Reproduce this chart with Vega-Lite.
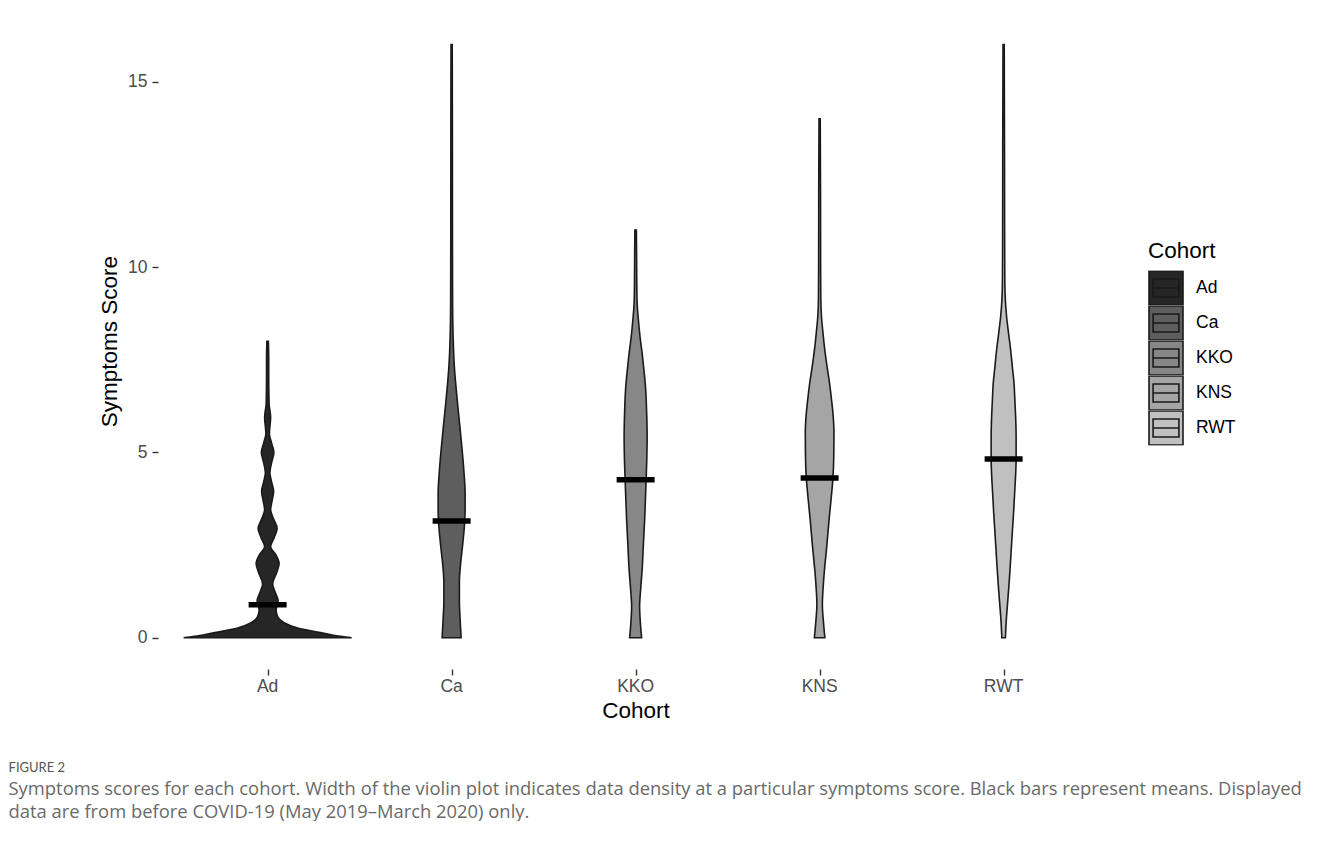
{
  "$schema": "https://vega.github.io/schema/vega-lite/v6.json",
  "padding": {"left": 8, "top": 15, "right": 0, "bottom": 0},
  "background": "white",
  "title": {
    "text": "FIGURE 2",
    "subtitle": [
      "Symptoms scores for each cohort. Width of the violin plot indicates data density at a particular symptoms score. Black bars represent means. Displayed",
      "data are from before COVID-19 (May 2019–March 2020) only."
    ],
    "orient": "bottom",
    "anchor": "start",
    "frame": "bounds",
    "dx": -90,
    "offset": 39,
    "font": "Lato",
    "fontSize": 13,
    "fontWeight": "normal",
    "color": "#555555",
    "subtitleFont": "Open Sans",
    "subtitleFontSize": 18.4,
    "subtitleColor": "#6a6a6a",
    "subtitleLineHeight": 23,
    "subtitlePadding": 5
  },
  "data": {
    "values": [
      {"c": "Ad", "s": 0, "lo": -84, "hi": 84}, {"c": "Ad", "s": 0.01, "lo": -81.5, "hi": 81.5},
      {"c": "Ad", "s": 0.03, "lo": -75, "hi": 75}, {"c": "Ad", "s": 0.08, "lo": -63.5, "hi": 63.5},
      {"c": "Ad", "s": 0.17, "lo": -47, "hi": 47}, {"c": "Ad", "s": 0.26, "lo": -30, "hi": 30},
      {"c": "Ad", "s": 0.4, "lo": -17, "hi": 17}, {"c": "Ad", "s": 0.57, "lo": -10, "hi": 10},
      {"c": "Ad", "s": 0.75, "lo": -8.5, "hi": 8.5}, {"c": "Ad", "s": 1.0, "lo": -10.5, "hi": 10.5},
      {"c": "Ad", "s": 1.2, "lo": -8, "hi": 8}, {"c": "Ad", "s": 1.45, "lo": -5, "hi": 5},
      {"c": "Ad", "s": 1.75, "lo": -9, "hi": 9}, {"c": "Ad", "s": 2.0, "lo": -11.5, "hi": 11.5},
      {"c": "Ad", "s": 2.25, "lo": -8, "hi": 8}, {"c": "Ad", "s": 2.45, "lo": -3, "hi": 3},
      {"c": "Ad", "s": 2.7, "lo": -6.5, "hi": 6.5}, {"c": "Ad", "s": 2.95, "lo": -9.5, "hi": 9.5},
      {"c": "Ad", "s": 3.2, "lo": -6, "hi": 6}, {"c": "Ad", "s": 3.45, "lo": -3, "hi": 3},
      {"c": "Ad", "s": 3.7, "lo": -4.5, "hi": 4.5}, {"c": "Ad", "s": 3.95, "lo": -6, "hi": 6},
      {"c": "Ad", "s": 4.2, "lo": -4, "hi": 4}, {"c": "Ad", "s": 4.45, "lo": -2.25, "hi": 2.25},
      {"c": "Ad", "s": 4.75, "lo": -4.25, "hi": 4.25}, {"c": "Ad", "s": 5.0, "lo": -6.25, "hi": 6.25},
      {"c": "Ad", "s": 5.25, "lo": -4, "hi": 4}, {"c": "Ad", "s": 5.5, "lo": -1.75, "hi": 1.75},
      {"c": "Ad", "s": 5.95, "lo": -3, "hi": 3}, {"c": "Ad", "s": 6.3, "lo": -1.5, "hi": 1.5},
      {"c": "Ad", "s": 6.6, "lo": -1.25, "hi": 1.25}, {"c": "Ad", "s": 7.0, "lo": -1.1, "hi": 1.1},
      {"c": "Ad", "s": 7.5, "lo": -1.1, "hi": 1.1}, {"c": "Ad", "s": 8.0, "lo": -0.75, "hi": 0.75},

      {"c": "Ca", "s": 0, "lo": -9.5, "hi": 9.5}, {"c": "Ca", "s": 0.5, "lo": -8.5, "hi": 8.5},
      {"c": "Ca", "s": 1, "lo": -7.75, "hi": 7.75}, {"c": "Ca", "s": 1.5, "lo": -7.75, "hi": 7.75},
      {"c": "Ca", "s": 2, "lo": -9, "hi": 9}, {"c": "Ca", "s": 2.5, "lo": -11, "hi": 11},
      {"c": "Ca", "s": 3, "lo": -12.75, "hi": 12.75}, {"c": "Ca", "s": 3.5, "lo": -13.5, "hi": 13.5},
      {"c": "Ca", "s": 3.9, "lo": -13.5, "hi": 13.5}, {"c": "Ca", "s": 4.5, "lo": -12.25, "hi": 12.25},
      {"c": "Ca", "s": 5.07, "lo": -10.5, "hi": 10.5}, {"c": "Ca", "s": 5.7, "lo": -8.25, "hi": 8.25},
      {"c": "Ca", "s": 6.3, "lo": -6, "hi": 6}, {"c": "Ca", "s": 6.8, "lo": -4.25, "hi": 4.25},
      {"c": "Ca", "s": 7.3, "lo": -2.75, "hi": 2.75}, {"c": "Ca", "s": 7.7, "lo": -2, "hi": 2},
      {"c": "Ca", "s": 8.1, "lo": -1.5, "hi": 1.5}, {"c": "Ca", "s": 9, "lo": -1, "hi": 1},
      {"c": "Ca", "s": 10, "lo": -0.9, "hi": 0.9}, {"c": "Ca", "s": 12, "lo": -0.8, "hi": 0.8},
      {"c": "Ca", "s": 14, "lo": -0.75, "hi": 0.75}, {"c": "Ca", "s": 16, "lo": -0.6, "hi": 0.6},

      {"c": "KKO", "s": 0, "lo": -6, "hi": 6}, {"c": "KKO", "s": 0.4, "lo": -4.75, "hi": 4.75},
      {"c": "KKO", "s": 0.85, "lo": -4, "hi": 4}, {"c": "KKO", "s": 1.3, "lo": -5, "hi": 5},
      {"c": "KKO", "s": 1.83, "lo": -6.5, "hi": 6.5}, {"c": "KKO", "s": 2.5, "lo": -7.75, "hi": 7.75},
      {"c": "KKO", "s": 3.18, "lo": -9, "hi": 9}, {"c": "KKO", "s": 3.7, "lo": -9.75, "hi": 9.75},
      {"c": "KKO", "s": 4.26, "lo": -10.5, "hi": 10.5}, {"c": "KKO", "s": 4.9, "lo": -11.25, "hi": 11.25},
      {"c": "KKO", "s": 5.43, "lo": -11.5, "hi": 11.5}, {"c": "KKO", "s": 6.1, "lo": -11, "hi": 11},
      {"c": "KKO", "s": 6.78, "lo": -9.85, "hi": 9.85}, {"c": "KKO", "s": 7.3, "lo": -8, "hi": 8},
      {"c": "KKO", "s": 7.68, "lo": -6.5, "hi": 6.5}, {"c": "KKO", "s": 8.1, "lo": -4.5, "hi": 4.5},
      {"c": "KKO", "s": 8.58, "lo": -2.75, "hi": 2.75}, {"c": "KKO", "s": 9.03, "lo": -1.5, "hi": 1.5},
      {"c": "KKO", "s": 9.5, "lo": -1.15, "hi": 1.15}, {"c": "KKO", "s": 10.2, "lo": -1, "hi": 1},
      {"c": "KKO", "s": 11, "lo": -0.75, "hi": 0.75},

      {"c": "KNS", "s": 0, "lo": -5.25, "hi": 5.25}, {"c": "KNS", "s": 0.45, "lo": -3.75, "hi": 3.75},
      {"c": "KNS", "s": 0.9, "lo": -2.75, "hi": 2.75}, {"c": "KNS", "s": 1.35, "lo": -3.5, "hi": 3.5},
      {"c": "KNS", "s": 1.8, "lo": -4.75, "hi": 4.75}, {"c": "KNS", "s": 2.5, "lo": -7.25, "hi": 7.25},
      {"c": "KNS", "s": 3.2, "lo": -9.5, "hi": 9.5}, {"c": "KNS", "s": 3.75, "lo": -11.5, "hi": 11.5},
      {"c": "KNS", "s": 4.3, "lo": -13.3, "hi": 13.3}, {"c": "KNS", "s": 4.9, "lo": -14.15, "hi": 14.15},
      {"c": "KNS", "s": 5.5, "lo": -14.35, "hi": 14.35}, {"c": "KNS", "s": 6.0, "lo": -13.5, "hi": 13.5},
      {"c": "KNS", "s": 6.4, "lo": -12, "hi": 12}, {"c": "KNS", "s": 6.85, "lo": -10, "hi": 10},
      {"c": "KNS", "s": 7.3, "lo": -7.5, "hi": 7.5}, {"c": "KNS", "s": 7.8, "lo": -5, "hi": 5},
      {"c": "KNS", "s": 8.25, "lo": -3.25, "hi": 3.25}, {"c": "KNS", "s": 8.7, "lo": -1.75, "hi": 1.75},
      {"c": "KNS", "s": 9.2, "lo": -1.15, "hi": 1.15}, {"c": "KNS", "s": 10, "lo": -1, "hi": 1},
      {"c": "KNS", "s": 12, "lo": -0.9, "hi": 0.9}, {"c": "KNS", "s": 14, "lo": -0.6, "hi": 0.6},

      {"c": "RWT", "s": 0, "lo": -1.75, "hi": 1.75}, {"c": "RWT", "s": 0.57, "lo": -2.9, "hi": 2.9},
      {"c": "RWT", "s": 1.0, "lo": -4.15, "hi": 4.15}, {"c": "RWT", "s": 1.48, "lo": -5.5, "hi": 5.5},
      {"c": "RWT", "s": 2.1, "lo": -7, "hi": 7}, {"c": "RWT", "s": 2.83, "lo": -8.65, "hi": 8.65},
      {"c": "RWT", "s": 3.4, "lo": -10, "hi": 10}, {"c": "RWT", "s": 3.9, "lo": -11, "hi": 11},
      {"c": "RWT", "s": 4.4, "lo": -12, "hi": 12}, {"c": "RWT", "s": 4.83, "lo": -12.5, "hi": 12.5},
      {"c": "RWT", "s": 5.4, "lo": -12.5, "hi": 12.5}, {"c": "RWT", "s": 5.96, "lo": -12, "hi": 12},
      {"c": "RWT", "s": 6.4, "lo": -11.25, "hi": 11.25}, {"c": "RWT", "s": 6.88, "lo": -10.35, "hi": 10.35},
      {"c": "RWT", "s": 7.3, "lo": -8.75, "hi": 8.75}, {"c": "RWT", "s": 7.77, "lo": -7, "hi": 7},
      {"c": "RWT", "s": 8.2, "lo": -5, "hi": 5}, {"c": "RWT", "s": 8.66, "lo": -3, "hi": 3},
      {"c": "RWT", "s": 9.1, "lo": -1.75, "hi": 1.75}, {"c": "RWT", "s": 9.6, "lo": -1.2, "hi": 1.2},
      {"c": "RWT", "s": 11, "lo": -1, "hi": 1}, {"c": "RWT", "s": 13, "lo": -0.9, "hi": 0.9},
      {"c": "RWT", "s": 16, "lo": -0.6, "hi": 0.6},

      {"c": "Ad", "m": 0.89}, {"c": "Ca", "m": 3.15}, {"c": "KKO", "m": 4.26},
      {"c": "KNS", "m": 4.31}, {"c": "RWT", "m": 4.82}
    ]
  },
  "facet": {
    "column": {
      "field": "c",
      "type": "nominal",
      "sort": ["Ad", "Ca", "KKO", "KNS", "RWT"],
      "title": "Cohort",
      "header": {
        "labelOrient": "bottom",
        "titleOrient": "bottom",
        "labelFont": "Liberation Sans",
        "labelFontSize": 17.5,
        "labelColor": "#4d4d4d",
        "labelPadding": 2,
        "titleFont": "Liberation Sans",
        "titleFontSize": 22.5,
        "titleFontWeight": "normal",
        "titleColor": "black",
        "titlePadding": -6
      }
    }
  },
  "spacing": 0,
  "spec": {
    "width": 183.25,
    "height": 652.4,
    "layer": [
      {
        "transform": [{"filter": "isValid(datum.hi)"}],
        "mark": {
          "type": "area",
          "orient": "horizontal",
          "interpolate": "monotone",
          "stroke": "#1a1a1a",
          "strokeWidth": 1.6,
          "opacity": 1
        },
        "encoding": {
          "y": {
            "field": "s",
            "type": "quantitative",
            "title": "Symptoms Score",
            "scale": {"domain": [-0.8, 16.8], "nice": false, "zero": false},
            "axis": {"values": [0, 5, 10, 15]}
          },
          "x": {
            "field": "hi",
            "type": "quantitative",
            "scale": {"domain": [-91.625, 91.625], "nice": false, "zero": false},
            "axis": {
              "values": [0],
              "labels": false,
              "domain": false,
              "grid": false,
              "ticks": true,
              "tickSize": 6,
              "tickWidth": 1.4,
              "tickColor": "#333333",
              "offset": 1,
              "title": null
            }
          },
          "x2": {"field": "lo"},
          "color": {
            "field": "c",
            "type": "nominal",
            "title": "Cohort",
            "scale": {
              "domain": ["Ad", "Ca", "KKO", "KNS", "RWT"],
              "range": ["#262626", "#5e5e5e", "#878787", "#a5a5a5", "#c0c0c0"]
            },
            "legend": {
              "orient": "none",
              "legendX": 972,
              "legendY": 225,
              "symbolType": "M-1,-1H1V1H-1Z M-0.76,-0.53H0.76V0.53H-0.76Z M-0.76,0H0.76",
              "symbolSize": 1156,
              "symbolStrokeColor": "#1a1a1a",
              "symbolStrokeWidth": 1.6,
              "symbolOpacity": 1,
              "clipHeight": 35,
              "rowPadding": 0,
              "labelOffset": 12,
              "labelFont": "Liberation Sans",
              "labelFontSize": 17.5,
              "labelColor": "black",
              "titleFont": "Liberation Sans",
              "titleFontSize": 22.5,
              "titleFontWeight": "normal",
              "titleColor": "black",
              "titlePadding": 8
            }
          }
        }
      },
      {
        "transform": [{"filter": "isValid(datum.m)"}],
        "mark": {"type": "tick", "orient": "horizontal", "color": "black", "size": 38, "thickness": 5.5, "opacity": 1},
        "encoding": {
          "y": {"field": "m", "type": "quantitative", "title": "Symptoms Score"}
        }
      }
    ]
  },
  "config": {
    "view": {"stroke": null},
    "font": "Liberation Sans",
    "axisY": {
      "domain": false,
      "grid": false,
      "offset": 18,
      "tickSize": 6,
      "tickWidth": 1.4,
      "tickColor": "#333333",
      "labelFont": "Liberation Sans",
      "labelFontSize": 17.5,
      "labelColor": "#4d4d4d",
      "labelPadding": 5,
      "titleFont": "Liberation Sans",
      "titleFontSize": 22.5,
      "titleFontWeight": "normal",
      "titleColor": "black",
      "titlePadding": 6
    }
  }
}
